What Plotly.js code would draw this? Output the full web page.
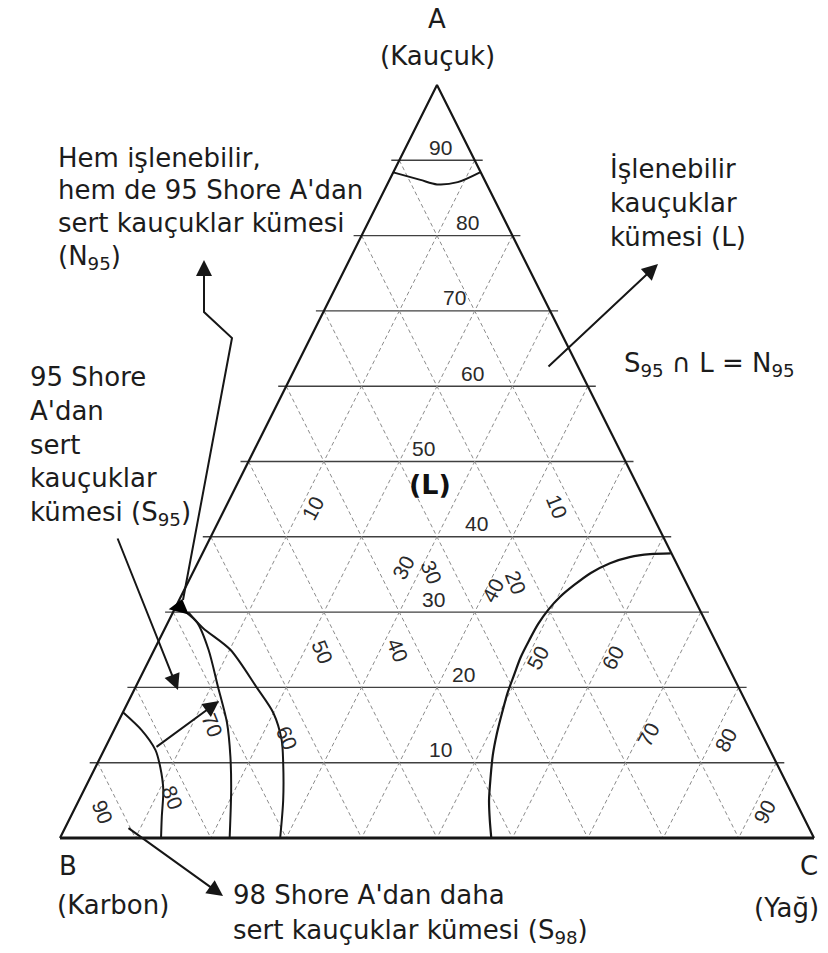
<!DOCTYPE html>
<html>
<head>
<meta charset="utf-8">
<script src="https://cdn.plot.ly/plotly-3.0.1.min.js"></script>
<style>
  html, body { margin: 0; padding: 0; background: #fff; }
  #chart { width: 828px; height: 953px; }
</style>
</head>
<body>
<div id="chart"></div>
<script>
// ---- Grid values (percent) ----
const gridValues = [10, 20, 30, 40, 50, 60, 70, 80, 90];

// ---- Boundary curves, ternary percentages (A = Kauçuk, C = Yağ; B = 100 - A - C) ----
// Upper cap near the A corner
const capTopA = [88.4, 87.4, 86.8, 87.1, 88.4];
const capTopC = [0.0, 4.1, 6.6, 9.2, 11.5];
// Large curve near the C corner
const yagCurveA = [37.8, 37.7, 37.3, 36.5, 35.2, 33.6, 32.0, 30.3, 28.4, 26.3,
                   24.0, 21.6, 19.4, 16.7, 13.9, 11.0, 8.0, 5.0, 2.4, 0.0];
const yagCurveC = [62.1, 59.4, 56.9, 54.7, 52.8, 51.4, 50.3, 49.6, 49.2, 49.1,
                   49.1, 49.4, 49.7, 50.3, 51.0, 51.9, 53.1, 54.4, 55.8, 57.2];
// Hardness curves near the B corner
const hard98A = [16.7, 14.3, 11.7, 9.4, 6.4, 2.8, 0.0];
const hard98C = [0.0, 3.7, 6.8, 8.6, 10.5, 12.1, 13.4];
const hard95A = [30.0, 28.6, 25.0, 20.1, 15.3, 10.8, 6.4, 0.0];
const hard95C = [1.7, 3.9, 7.2, 10.9, 14.5, 17.2, 19.5, 22.5];
const hardOuterA = [30.0, 27.9, 25.0, 19.9, 16.6, 13.0, 10.0, 5.0, 0.0];
const hardOuterC = [2.0, 5.0, 10.1, 16.2, 20.0, 22.9, 24.6, 27.1, 29.2];
// Meeting point of the hardness curves on the A-B edge
const nodeA = [30.6];
const nodeC = [0.6];

// ---- Tick label sets ----
const aTickLabels = [90, 80, 70, 60, 50, 40, 30, 20, 10];
const bTickLabels = [10, 20, 30, 40, 50, 60, 70, 80, 90];
const cTickLabels = [10, 30, 40, 50, 60, 70, 80, 90];

// ---- Geometry of the drawing area (pixels) ----
const W = 828, H = 953;
const BX = 60, CX = 814, BASE_Y = 838, APEX_Y = 85;
const SPAN_X = CX - BX, SPAN_Y = BASE_Y - APEX_Y;

// Ternary (percent) -> cartesian data coordinates of a tall isosceles triangle
function tx(a, c) { return (c + a / 2) / 100; }
function ty(a) { return a / 100; }
// Pixel position -> data coordinates (for free text and leader arrows)
function px(x) { return (x - BX) / SPAN_X; }
function py(y) { return (BASE_Y - y) / SPAN_Y; }

const traces = [];
const INK = '#161616';

// Horizontal A lines (slightly overshooting both edges)
(function () {
  const xs = [], ys = [];
  const ext = 8 / SPAN_X;
  gridValues.forEach(k => {
    xs.push(tx(k, 0) - ext, tx(k, 100 - k) + ext, null);
    ys.push(ty(k), ty(k), null);
  });
  traces.push({ x: xs, y: ys, mode: 'lines', hoverinfo: 'skip',
    line: { color: '#404040', width: 1.4 } });
})();

// Dashed B and C lines
(function () {
  const xs = [], ys = [];
  gridValues.forEach(k => {
    // B = k : from A-B edge to B-C edge
    xs.push(tx(100 - k, 0), tx(0, 100 - k), null);
    ys.push(ty(100 - k), ty(0), null);
    // C = k : from A-C edge to B-C edge
    xs.push(tx(100 - k, k), tx(0, k), null);
    ys.push(ty(100 - k), ty(0), null);
  });
  traces.push({ x: xs, y: ys, mode: 'lines', hoverinfo: 'skip',
    line: { color: '#8c8c8c', width: 1, dash: '4px,3px' } });
})();

// Triangle sides
traces.push({ x: [tx(0, 0), tx(100, 0), tx(0, 100)], y: [ty(0), ty(100), ty(0)],
  mode: 'lines', hoverinfo: 'skip', line: { color: INK, width: 2.2 } });
traces.push({ x: [tx(0, 0), tx(0, 100)], y: [ty(0), ty(0)],
  mode: 'lines', hoverinfo: 'skip', line: { color: INK, width: 3.2 } });

// Boundary curves
function curve(aArr, cArr, w) {
  traces.push({ x: aArr.map((a, i) => tx(a, cArr[i])), y: aArr.map(a => ty(a)),
    mode: 'lines', hoverinfo: 'skip',
    line: { color: INK, width: w, shape: 'spline', smoothing: 0.8 } });
}
curve(capTopA, capTopC, 2);
curve(yagCurveA, yagCurveC, 2.2);
curve(hard98A, hard98C, 2);
curve(hard95A, hard95C, 2);
curve(hardOuterA, hardOuterC, 2);

// Node marker
traces.push({ x: nodeA.map((a, i) => tx(a, nodeC[i])), y: nodeA.map(a => ty(a)),
  mode: 'markers', hoverinfo: 'skip',
  marker: { symbol: 'triangle-up', size: 18, color: '#000', angle: 15 } });

// N95 leader line (polyline; its arrow head is added below)
const leaderPx = [[183, 600], [232, 338], [204, 312], [204, 280]];
traces.push({ x: leaderPx.map(p => px(p[0])), y: leaderPx.map(p => py(p[1])),
  mode: 'lines', hoverinfo: 'skip', line: { color: INK, width: 2 } });

// ---- Annotations ----
const annotations = [];
const TXT = { family: 'DejaVu Sans, Verdana, sans-serif', size: 26, color: '#1c1c1c' };
const TICK = { family: 'Liberation Sans, Arial, sans-serif', size: 21, color: '#2a2a2a' };

function text(str, x, y, anchor, font) {
  annotations.push({ text: str, x: px(x), y: py(y), xref: 'x', yref: 'y',
    showarrow: false, xanchor: anchor || 'left', yanchor: 'middle',
    font: font || TXT });
}

// A tick labels: x position (px) of each label above its line
const aLabelX = [440, 467, 454, 472, 423, 476, 433, 463, 440];
aTickLabels.forEach((k, i) => {
  annotations.push({ text: String(k), x: px(aLabelX[i]), y: ty(k), xref: 'x', yref: 'y',
    yshift: 13, showarrow: false, xanchor: 'center', yanchor: 'middle', font: TICK });
});

// B tick labels: [A level where placed, horizontal offset px]
const bLabelPlace = [[44.0, -16], [34.0, -20], [35.3, -23], [25.0, -21], [24.7, -21],
                     [13.3, -25], [15.0, -17], [5.4, -18], [3.5, -20]];
bTickLabels.forEach((k, i) => {
  const a = bLabelPlace[i][0], c = 100 - a - k;
  annotations.push({ text: String(k), x: tx(a, c), y: ty(a), xref: 'x', yref: 'y',
    xshift: bLabelPlace[i][1], showarrow: false, textangle: 68,
    xanchor: 'center', yanchor: 'middle', font: TICK });
});

// C tick labels: [A level where placed, horizontal offset px]
const cLabelPlace = [[43.8, 12], [35.9, -18], [32.9, 7], [23.9, 10], [24.0, 10],
                     [13.7, 9], [13.0, 13], [3.5, 13]];
cTickLabels.forEach((k, i) => {
  const a = cLabelPlace[i][0];
  annotations.push({ text: String(k), x: tx(a, k), y: ty(a), xref: 'x', yref: 'y',
    xshift: cLabelPlace[i][1], showarrow: false, textangle: -62,
    xanchor: 'center', yanchor: 'middle', font: TICK });
});

// Corner names
text('A', 437, 19, 'center');
text('(Kauçuk)', 437, 56, 'center');
text('B', 57, 866, 'left');
text('(Karbon)', 55, 905, 'left');
text('C', 820, 866, 'right');
text('(Yağ)', 821, 908, 'right');

// Region descriptions
text('Hem işlenebilir,', 56, 158);
text('hem de 95 Shore A\'dan', 56, 190);
text('sert kauçuklar kümesi', 56, 223);
text('(N<sub>95</sub>)', 56, 257);

text('İşlenebilir', 608, 168);
text('kauçuklar', 608, 203);
text('kümesi (L)', 608, 237);

text('S<sub>95</sub> ∩ L = N<sub>95</sub>', 622, 364);

text('95 Shore', 28, 377);
text('A\'dan', 28, 411);
text('sert', 28, 445);
text('kauçuklar', 28, 478);
text('kümesi (S<sub>95</sub>)', 28, 513);

text('98 Shore A\'dan daha', 231, 895);
text('sert kauçuklar kümesi (S<sub>98</sub>)', 231, 931);

text('<b>(L)</b>', 430, 484, 'center', { family: 'DejaVu Sans, Verdana, sans-serif', size: 27, color: '#111' });

// Arrows: [tail px, head px]
const arrows = [
  [[547, 368], [658, 264]],
  [[204, 282], [204, 260]],
  [[117, 537], [178, 690]],
  [[155, 748], [219, 701]],
  [[127, 827], [223, 896]]
];
arrows.forEach(([t, h]) => {
  annotations.push({ text: '', x: px(h[0]), y: py(h[1]), xref: 'x', yref: 'y',
    ax: px(t[0]), ay: py(t[1]), axref: 'x', ayref: 'y',
    showarrow: true, arrowhead: 2, arrowsize: 1.6, arrowwidth: 2, arrowcolor: INK,
    standoff: 0, startstandoff: 0 });
});

const layout = {
  width: W, height: H,
  margin: { l: 0, r: 0, t: 0, b: 0, pad: 0 },
  paper_bgcolor: '#ffffff', plot_bgcolor: '#ffffff',
  showlegend: false,
  xaxis: { range: [px(0), px(W)], visible: false, fixedrange: true },
  yaxis: { range: [py(H), py(0)], visible: false, fixedrange: true },
  annotations: annotations
};

Plotly.newPlot('chart', traces, layout, { displayModeBar: false, staticPlot: true });
</script>
</body>
</html>
